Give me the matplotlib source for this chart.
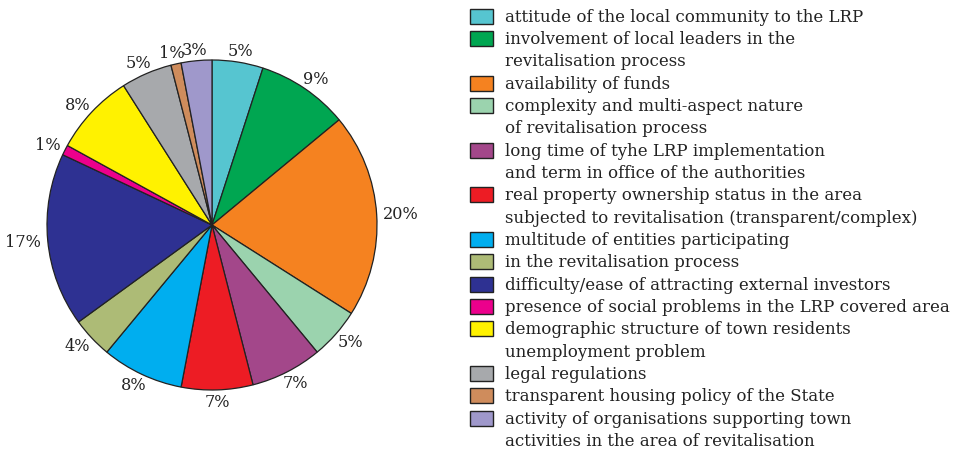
import numpy as np
import matplotlib
matplotlib.use("Agg")
import matplotlib.pyplot as plt
from matplotlib.patches import Rectangle

values = [5, 9, 20, 5, 7, 7, 8, 4, 17, 1, 8, 5, 1, 3]
colors = ["#56C5D0", "#00A651", "#F58220", "#9BD3AE", "#A3478A", "#ED1C24",
          "#00AEEF", "#ADBB76", "#2E3192", "#EC008C", "#FFF200", "#A7A9AC",
          "#CF8C5C", "#9F98CB"]
legend_labels = [
    "attitude of the local community to the LRP",
    "involvement of local leaders in the\nrevitalisation process",
    "availability of funds",
    "complexity and multi-aspect nature\nof revitalisation process",
    "long time of tyhe LRP implementation\nand term in office of the authorities",
    "real property ownership status in the area\nsubjected to revitalisation (transparent/complex)",
    "multitude of entities participating",
    "in the revitalisation process",
    "difficulty/ease of attracting external investors",
    "presence of social problems in the LRP covered area",
    "demographic structure of town residents\nunemployment problem",
    "legal regulations",
    "transparent housing policy of the State",
    "activity of organisations supporting town\nactivities in the area of revitalisation",
]
pct_labels = [f"{v}%" for v in values]

plt.rcParams['font.family'] = ['DejaVu Serif']
FS = 12.0
PFS = 11.6

W, H = 959, 452
fig = plt.figure(figsize=(W / 100, H / 100), dpi=100)
ax = fig.add_axes([0, 0, 1, 1])

cx, cy, R = 212, H - 226, 165
LD = 1.04
wedges, texts = ax.pie(values, colors=colors, startangle=90, counterclock=False,
                       center=(cx, cy), radius=R, labels=pct_labels,
                       labeldistance=LD,
                       wedgeprops=dict(edgecolor="#222222", linewidth=0.9),
                       textprops=dict(fontsize=PFS, color="#222222"))
ax.set_xlim(0, W)
ax.set_ylim(0, H)
ax.set_aspect('equal')
ax.axis('off')

# reposition labels so the text box sits just outside the anchor point
fig.canvas.draw()
renderer = fig.canvas.get_renderer()
for w, t in zip(wedges, texts):
    ang = np.deg2rad((w.theta1 + w.theta2) / 2)
    bb = t.get_window_extent(renderer)
    ax_x = cx + LD * R * np.cos(ang)
    ax_y = cy + LD * R * np.sin(ang)
    t.set_position((ax_x + np.cos(ang) * bb.width / 2,
                    ax_y + np.sin(ang) * bb.height * 0.3))
    t.set_ha('center')
    t.set_va('center')

# legend drawn manually to keep swatch aligned to the first line
line_h = 22.35
y0 = 17
line = 0
for lab, col in zip(legend_labels, colors):
    ytop = y0 + line * line_h
    ax.add_patch(Rectangle((470, H - ytop - 7.5), 23, 15, facecolor=col,
                           edgecolor="#222222", linewidth=1.0))
    for j, part in enumerate(lab.split("\n")):
        ax.text(505, H - (ytop + j * line_h), part, fontsize=FS,
                ha='left', va='center', color="#222222")
    line += len(lab.split("\n"))

fig.savefig("out.png", dpi=100)
